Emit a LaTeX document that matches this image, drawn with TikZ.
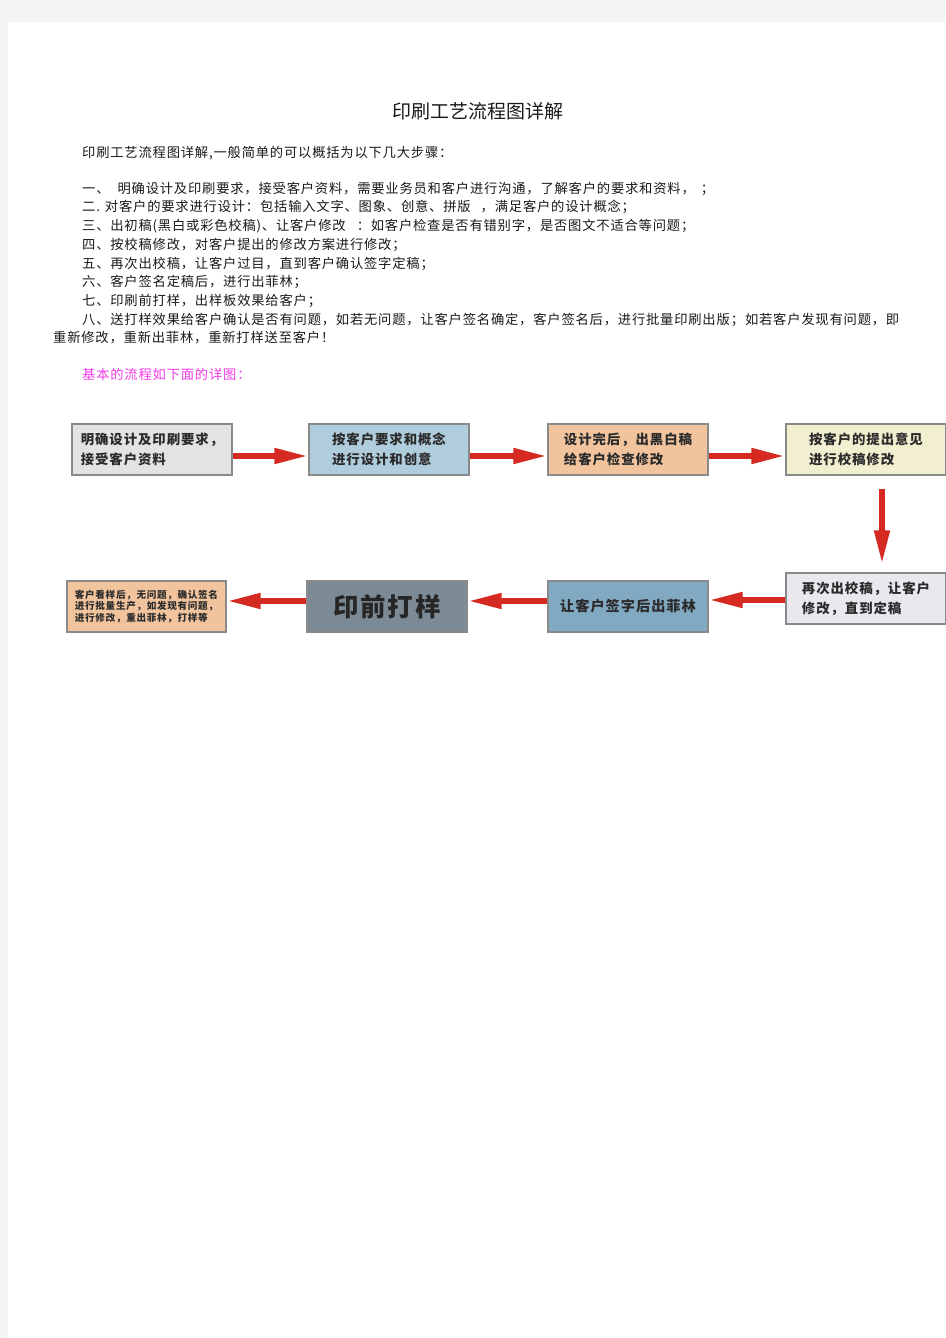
\documentclass[tikz,border=0pt]{standalone}
\usepackage{fontspec}
\newfontfamily\cjk{Noto Sans CJK SC}
\newfontfamily\cjkbody{Noto Sans CJK SC}[LetterSpace=6]
\newfontfamily\cjkbox{Noto Sans CJK SC}[LetterSpace=7]
\usetikzlibrary{arrows.meta}
\definecolor{bggray}{HTML}{F3F3F3}
\definecolor{bodytext}{HTML}{1A1A1A}
\definecolor{magentatext}{HTML}{F23CE6}
\definecolor{boxborder}{HTML}{8A8A8A}
\definecolor{textdark}{HTML}{2B2B2B}
\definecolor{arrowred}{HTML}{D42A22}
\definecolor{fgray}{HTML}{E3E3E3}
\definecolor{fltblue}{HTML}{B0CDDE}
\definecolor{fpeach}{HTML}{F2C49E}
\definecolor{fkhaki}{HTML}{F1EFD0}
\definecolor{flavender}{HTML}{E8E8EE}
\definecolor{fblue}{HTML}{82A9C2}
\definecolor{fslate}{HTML}{7B8A94}
\begin{document}
\begin{tikzpicture}[x=1pt,y=-1pt,
  bodyline/.style={anchor=base west, inner sep=0pt, text=bodytext,
    font=\cjkbody\fontsize{13.3}{18.7}\selectfont},
  box/.style={draw=boxborder, line width=1.2pt, minimum width=160pt,
    minimum height=51pt, inner sep=0pt, align=left, text=textdark,
    font=\cjkbox\bfseries\fontsize{13.4}{20}\selectfont},
  arr/.style={draw=arrowred, line width=6pt,
    -{Triangle[length=34pt,width=14.5pt]}}]
\useasboundingbox (0,0) rectangle (945,1338);
\fill[bggray] (0,0) rectangle (945,1338);
\fill[white] (8,22) rectangle (945,1338);

% title
\node[inner sep=0pt, text=bodytext, font=\cjk\fontsize{19}{22}\selectfont]
  (title) at (478,111.5) {印刷工艺流程图详解};

% body text
\node[bodyline] (l0) at (82,157.0) {印刷工艺流程图详解,一般简单的可以概括为以下几大步骤：};
\node[bodyline] (l1) at (82,193.3) {一、\hspace{8pt}明确设计及印刷要求，接受客户资料，需要业务员和客户进行沟通，了解客户的要求和资料，\hspace{6pt}；};
\node[bodyline] (l2) at (82,211.9) {二.\hspace{5pt}对客户的要求进行设计：包括输入文字、图象、创意、拼版\hspace{10pt}，满足客户的设计概念；};
\node[bodyline] (l3) at (82,230.7) {三、出初稿(黑白或彩色校稿)、让客户修改\hspace{11pt}：如客户检查是否有错别字，是否图文不适合等问题；};
\node[bodyline] (l4) at (82,249.5) {四、按校稿修改，对客户提出的修改方案进行修改；};
\node[bodyline] (l5) at (82,268.2) {五、再次出校稿，让客户过目，直到客户确认签字定稿；};
\node[bodyline] (l6) at (82,286.9) {六、客户签名定稿后，进行出菲林；};
\node[bodyline] (l7) at (82,305.6) {七、印刷前打样，出样板效果给客户；};
\node[bodyline] (l8) at (82,324.3) {八、送打样效果给客户确认是否有问题，如若无问题，让客户签名确定，客户签名后，进行批量印刷出版\hspace{1pt}；如若客户发现有问题，即};
\node[bodyline] (l9) at (53,342.9) {重新修改，重新出菲林，重新打样送至客户！};
\node[bodyline, text=magentatext] (l10) at (82,379.9) {基本的流程如下面的详图：};

% flow boxes, row 1
\node[box, fill=fgray] (b1) at (152,449.5) {明确设计及印刷要求，\\接受客户资料};
\node[box, fill=fltblue] (b2) at (389,449.5) {按客户要求和概念\\进行设计和创意};
\node[box, fill=fpeach] (b3) at (628,449.5) {设计完后，出黑白稿\\给客户检查修改};
\node[box, fill=fkhaki] (b4) at (866,449.5) {按客户的提出意见\\进行校稿修改};
% row 2
\node[box, fill=flavender] (b5) at (866,598.5) {再次出校稿，让客户\\修改，直到定稿};
\node[box, fill=fblue, font=\cjkbox\bfseries\fontsize{14.2}{20}\selectfont] (b6) at (628,606.5) {让客户签字后出菲林};
\node[box, fill=fslate, text=black!85, font=\cjkbox\bfseries\fontsize{25.5}{28}\selectfont] (b7) at (387,606.5) {印前打样};
\node[box, fill=fpeach, minimum width=159pt, font=\cjkbox\bfseries\fontsize{9.6}{11.6}\selectfont] (b8) at (146.5,606.5) {客户看样后，无问题，确认签名\\进行批量生产，如发现有问题，\\进行修改，重出菲林，打样等};

% connectors
\draw[arr] ([yshift=-6.5pt]b1.east) -- ([yshift=-6.5pt]b1.east -| b2.west);
\draw[arr] ([yshift=-6.5pt]b2.east) -- ([yshift=-6.5pt]b2.east -| b3.west);
\draw[arr] ([yshift=-6.5pt]b3.east) -- ([yshift=-6.5pt]b3.east -| b4.west);
\draw[arr] ([xshift=16pt,yshift=-13pt]b4.south) -- ([xshift=16pt,yshift=8pt]b5.north);
\draw[arr] ([yshift=-1.5pt]b5.west) -- ([yshift=-1.5pt]b5.west -| b6.east);
\draw[arr] ([yshift=5.5pt]b6.west) -- ([yshift=5.5pt]b6.west -| b7.east);
\draw[arr] ([yshift=5.5pt]b7.west) -- ([yshift=5.5pt]b7.west -| b8.east);
\end{tikzpicture}
\end{document}
